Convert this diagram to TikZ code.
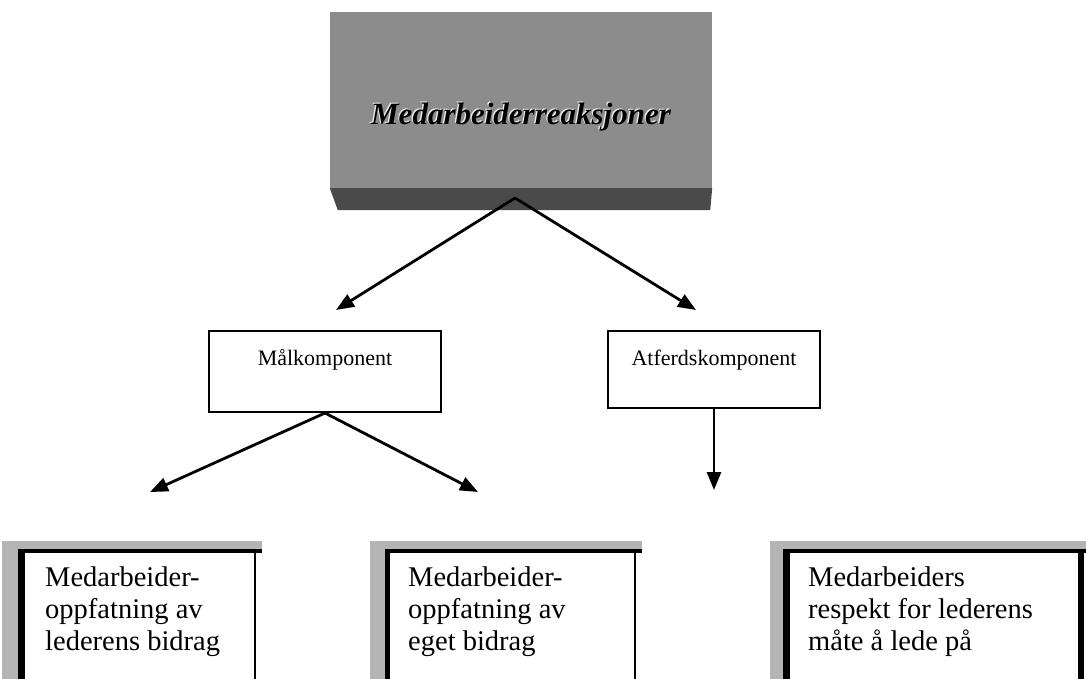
\documentclass[tikz,border=0pt]{standalone}
\usepackage{fontspec}
\setmainfont{Liberation Serif}
\usetikzlibrary{arrows.meta}
\definecolor{topgray}{HTML}{8C8C8C}
\definecolor{topdark}{HTML}{4A4A4A}
\definecolor{framegray}{HTML}{B4B4B4}
\begin{document}
\begin{tikzpicture}[x=1pt,y=-1pt,
  arr/.style={line width=2.8pt,-{Triangle[length=18pt,width=14pt]}},
  midbox/.style={draw,line width=2pt,inner sep=0pt},
  midtext/.style={anchor=base,inner sep=0pt,font=\fontsize{22}{25}\selectfont},
  lowtext/.style={anchor=north west,inner sep=0pt,align=left,font=\fontsize{28.5}{32}\selectfont},
  graypart/.style={fill=framegray},
  blackpart/.style={fill=black}]
\useasboundingbox (0,0) rectangle (1086,679);
\fill[white] (0,0) rectangle (1086,679);

% ---- top box ----
\node[fill=topgray,inner sep=0pt,minimum width=382pt,minimum height=176pt] (top) at (521,100) {};
\fill[topdark] (top.south west) -- (top.south east) -- ([shift={(-2,22)}]top.south east) -- ([shift={(8,22)}]top.south west) -- cycle;
\node[inner sep=0pt,anchor=base,text=white!85!gray,font=\fontsize{31}{34}\selectfont\bfseries\itshape] (toptextshadow) at (519.8,123.8) {Medarbeiderreaksjoner};
\node[inner sep=0pt,anchor=base,font=\fontsize{31}{34}\selectfont\bfseries\itshape] (toptext) at (521,125) {Medarbeiderreaksjoner};
\coordinate (apex) at (515,198);

% ---- middle boxes ----
\node[midbox,minimum width=232pt,minimum height=81pt] (mal) at (325,371.5) {};
\node[midtext] (maltext) at (325,365) {Målkomponent};
\node[midbox,minimum width=212pt,minimum height=77pt] (atf) at (714,369.5) {};
\node[midtext] (atftext) at (714,365) {Atferdskomponent};

\coordinate (t1) at (336,310);
\coordinate (t2) at (696,310);
\draw[arr] (apex) -- (t1);
\draw[arr] (apex) -- (t2);

\coordinate (malapex) at (mal.south);
\coordinate (t3) at (150,492);
\coordinate (t4) at (478,492);
\coordinate (t5) at (atf.south |- 0,490);
\draw[arr] (malapex) -- (t3);
\draw[arr] (malapex) -- (t4);
\draw[arr] (atf.south) -- (t5);

% ---- bottom boxes ----
% box 1
\fill[graypart] (2,541) rectangle (262,549);
\fill[graypart] (2,541) rectangle (18,679);
\fill[blackpart] (18,549) rectangle (25,679);
\fill[blackpart] (18,549) rectangle (262,553);
\draw[line width=2pt] (255,551) -- (255,679);
\node[lowtext] (b1) at (45,566.5) {Medarbeider-\\oppfatning av\\lederens bidrag};

% box 2
\fill[graypart] (370,541) rectangle (642,549);
\fill[graypart] (370,541) rectangle (385,679);
\fill[blackpart] (385,549) rectangle (390,679);
\fill[blackpart] (385,549) rectangle (642,553);
\draw[line width=2pt] (635,551) -- (635,679);
\node[lowtext] (b2) at (408,566.5) {Medarbeider-\\oppfatning av\\eget bidrag};

% box 3
\fill[graypart] (770,541) rectangle (1086,549);
\fill[graypart] (770,541) rectangle (783,679);
\fill[blackpart] (783,549) rectangle (790,679);
\fill[blackpart] (783,549) rectangle (1086,553);
\fill[blackpart] (1078,549) rectangle (1084,679);
\node[lowtext] (b3) at (808,566.5) {Medarbeiders\\respekt for lederens\\måte å lede på};
\end{tikzpicture}
\end{document}
